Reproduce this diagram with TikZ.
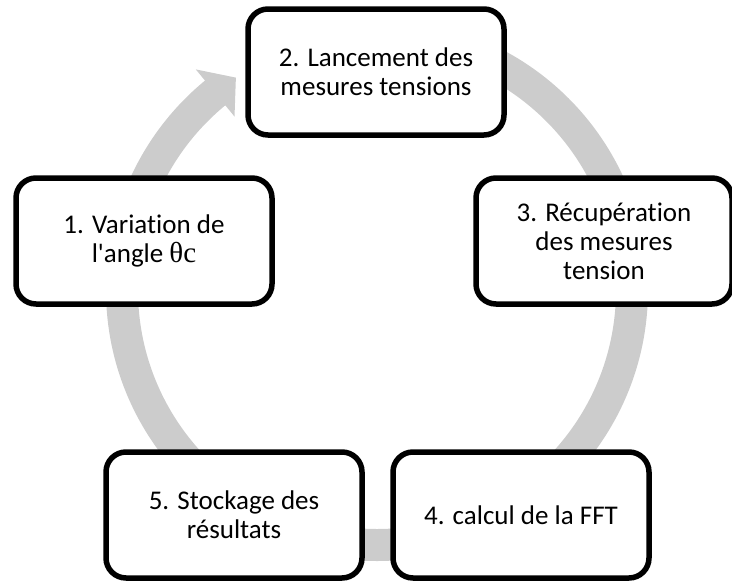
\documentclass[tikz,border=0pt]{standalone}
\usepackage{fontspec}
\setmainfont{Carlito}[Ligatures=NoCommon]
\newfontfamily\anglefont{Liberation Serif}
\definecolor{ringgray}{RGB}{204,204,204}
\usetikzlibrary{calc}

\begin{document}
\begin{tikzpicture}[
  x=1pt,y=1pt,
  stage/.style={draw,fill=white,line width=5.5pt,rounded corners=20pt,
    minimum width=256pt,minimum height=126pt,
    font=\fontsize{27}{29}\selectfont,align=center},
  ring/.style={draw=ringgray,line width=32pt}
]
  \useasboundingbox (0,0) rectangle (732,-582);
  \coordinate (c) at (377,-290);
  % Cycle ring with its head
  \draw[ring] ($(c)+(90:255)$) arc[start angle=90,end angle=-231,radius=255];
  \fill[ringgray,shift={(c)}] (129.4:285.5) -- (123.6:255) -- (129.4:224.5) -- cycle;
  % Steps
  \node[stage] (s1) at (144,-241) {1. Variation de\\l\textquotesingle angle {\anglefont\fontsize{29}{29}\selectfont θc}};
  \node[stage] (s2) at (376,-72) {2. Lancement des\\mesures tensions};
  \node[stage] (s3) at (604,-241) {3. Récupération\\des mesures\\tension};
  \node[stage] (s4) at (521,-515) {4. calcul de la FFT};
  \node[stage] (s5) at (234,-515) {5. Stockage des\\résultats};
\end{tikzpicture}
\end{document}
